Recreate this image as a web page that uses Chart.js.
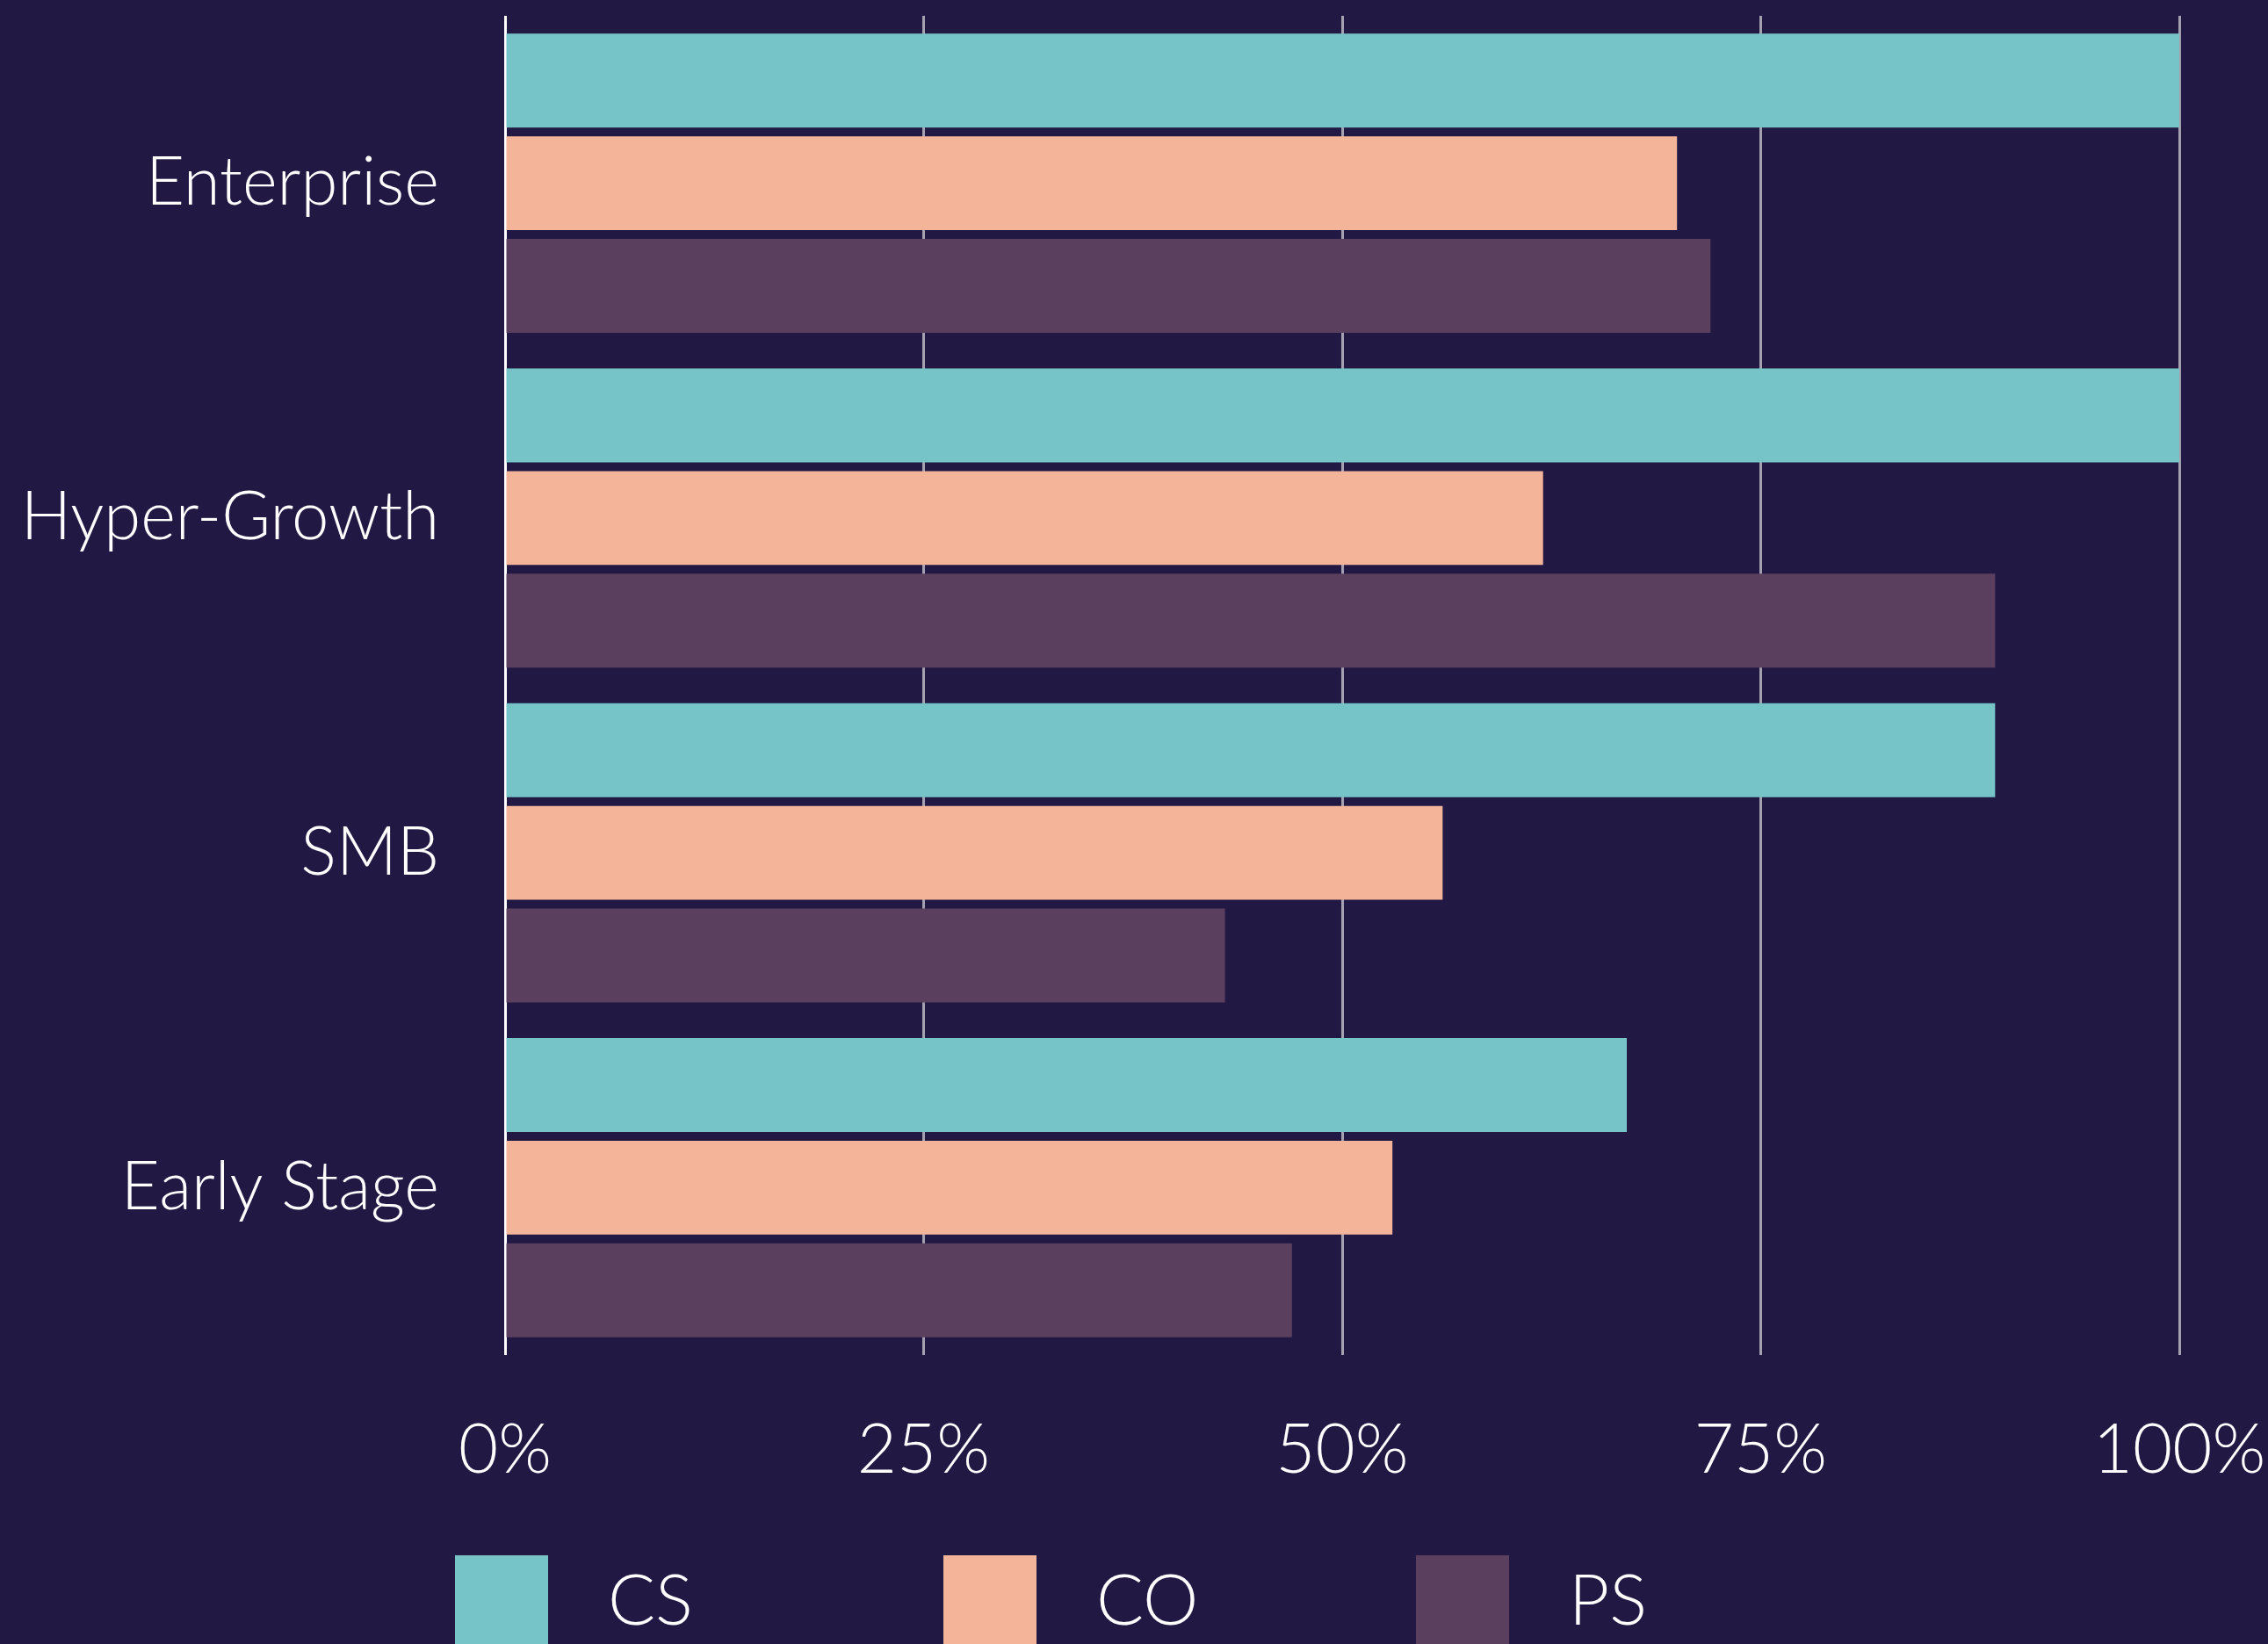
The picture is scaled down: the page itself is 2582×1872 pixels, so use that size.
<!DOCTYPE html>
<html>
<head>
<meta charset="utf-8">
<script src="https://cdn.jsdelivr.net/npm/chart.js@4.4.1/dist/chart.umd.min.js"></script>
<style>
  html, body { margin: 0; padding: 0; background: #211943; }
  canvas { display: block; }
</style>
</head>
<body>
<canvas id="c" width="2582" height="1872"></canvas>
<script>
const categories = ['Enterprise', 'Hyper-Growth', 'SMB', 'Early Stage'];
const seriesNames = ['CS', 'CO', 'PS'];
const csValues = [100, 100, 89, 67];
const coValues = [70, 62, 56, 53];
const psValues = [72, 89, 43, 47];
const xTicks = [0, 25, 50, 75, 100];

const BG = '#211943';
const COLORS = ['#76C4C8', '#F4B49A', '#5A3F5F'];
const FONT = 'Lato, "Open Sans", sans-serif';

const bgPlugin = {
  id: 'bg',
  beforeDraw(chart) {
    const ctx = chart.ctx;
    ctx.save();
    ctx.fillStyle = BG;
    ctx.fillRect(0, 0, chart.width, chart.height);
    ctx.restore();
  }
};

const legendPlugin = {
  id: 'customLegend',
  afterDraw(chart) {
    const ctx = chart.ctx;
    const starts = [518, 1074, 1612];
    ctx.save();
    ctx.font = '300 80px ' + FONT;
    ctx.textBaseline = 'alphabetic';
    ctx.textAlign = 'left';
    chart.data.datasets.forEach((ds, i) => {
      ctx.fillStyle = ds.backgroundColor;
      ctx.fillRect(starts[i], 1771, 106, 101);
      ctx.fillStyle = '#ffffff';
      ctx.fillText(ds.label, starts[i] + 174, 1850);
    });
    ctx.restore();
  }
};

new Chart(document.getElementById('c'), {
  type: 'bar',
  data: {
    labels: categories,
    datasets: [
      { label: seriesNames[0], data: csValues, backgroundColor: COLORS[0] },
      { label: seriesNames[1], data: coValues, backgroundColor: COLORS[1] },
      { label: seriesNames[2], data: psValues, backgroundColor: COLORS[2] }
    ]
  },
  options: {
    indexAxis: 'y',
    responsive: false,
    animation: false,
    devicePixelRatio: 1,
    categoryPercentage: 0.92,
    barPercentage: 0.915,
    layout: { padding: { top: 18, right: 101, left: 0, bottom: 0 } },
    plugins: {
      legend: { display: false },
      tooltip: { enabled: false }
    },
    scales: {
      x: {
        min: 0,
        max: 100,
        afterBuildTicks(axis) { axis.ticks = xTicks.map(v => ({ value: v })); },
        ticks: {
          color: '#ffffff',
          font: { family: FONT, size: 78, weight: 300 },
          padding: 62,
          maxRotation: 0,
          callback: v => v + '%'
        },
        grid: {
          drawTicks: false,
          color: ctx => (ctx.tick && ctx.tick.value === 0) ? '#ffffff' : '#a3a1b0',
          lineWidth: 3
        },
        border: { display: false },
        afterFit(axis) {
          axis.height = 1872 - 1543;
          axis.paddingLeft = 0;
          axis.paddingRight = 0;
        }
      },
      y: {
        ticks: {
          color: '#ffffff',
          font: { family: FONT, size: 76, weight: 300 },
          padding: 75
        },
        grid: { display: false, drawTicks: false },
        border: { display: false },
        afterFit(axis) {
          axis.width = 575;
          axis.paddingTop = 0;
          axis.paddingBottom = 0;
        }
      }
    }
  },
  plugins: [bgPlugin, legendPlugin]
});
</script>
</body>
</html>
